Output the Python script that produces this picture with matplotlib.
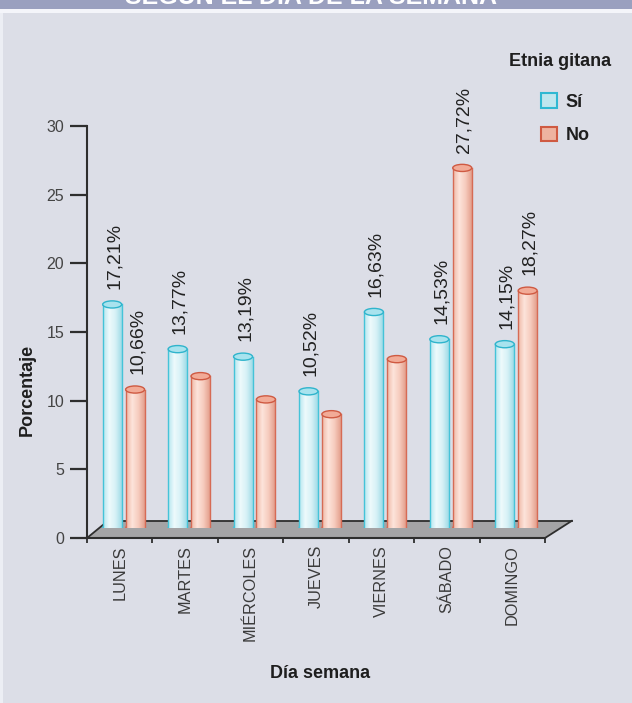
import matplotlib
matplotlib.use("Agg")
import matplotlib.pyplot as plt
import numpy as np
from matplotlib.patches import Rectangle, Ellipse, Polygon, Patch
from matplotlib.colors import LinearSegmentedColormap

plt.rcParams['font.family'] = ['Liberation Sans', 'DejaVu Sans']

# data
dias = ['LUNES', 'MARTES', 'MIÉRCOLES', 'JUEVES', 'VIERNES', 'SÁBADO', 'DOMINGO']
si = [17.21, 13.77, 13.19, 10.52, 16.63, 14.53, 14.15]
no = [10.66, 11.69, 9.90, 8.76, 13.00, 27.72, 18.27]
etiqueta_si = [True, True, True, True, True, True, True]
etiqueta_no = [True, False, False, False, False, True, True]
yticks = [0, 5, 10, 15, 20, 25, 30]

W, H = 632, 703
PT = 72 / 100  # pixels -> points
fig = plt.figure(figsize=(W / 100, H / 100), dpi=100)
fig.patch.set_facecolor('#dcdee7')

# banner on top + white line + light left strip
fig.patches.append(Rectangle((0, 1 - 9 / H), 1, 9 / H, transform=fig.transFigure,
                             facecolor='#9aa0bf', edgecolor='none', zorder=0))
fig.patches.append(Rectangle((0, 1 - 13 / H), 1, 4 / H, transform=fig.transFigure,
                             facecolor='#f4f5fa', edgecolor='none', zorder=0))
fig.patches.append(Rectangle((0, 0), 3 / W, 1 - 13 / H, transform=fig.transFigure,
                             facecolor='#eceef4', edgecolor='none', zorder=0))
fig.text(311 / W, 1 - 4 / H, 'SEGÚN EL DÍA DE LA SEMANA', color='white',
         fontsize=18, fontweight='bold', ha='center', va='baseline')

# front axes: ticks, floor
x0, x1 = 87, 545
y0, y30 = 538, 126
ax = fig.add_axes([x0 / W, (H - y0) / H, (x1 - x0) / W, (y0 - y30) / H])
ax.set_facecolor('none')
ax.set_xlim(0, 7)
ax.set_ylim(0, 30)
for s in ['top', 'right']:
    ax.spines[s].set_visible(False)
for s in ['left', 'bottom']:
    ax.spines[s].set_color('#2e2e2e')
    ax.spines[s].set_linewidth(1.5)
ax.set_yticks(yticks)
ax.tick_params(axis='y', length=17 * PT, width=1.6, color='#2e2e2e', pad=6 * PT,
               labelsize=11.5, labelcolor='#444444')
ax.set_xticks(np.arange(7) + 0.5)
ax.set_xticklabels(dias, rotation=90, fontsize=11.7, color='#3a3a3a')
ax.set_xticks(np.arange(8), minor=True)
ax.tick_params(axis='x', which='major', length=0, pad=7 * PT)
ax.tick_params(axis='x', which='minor', length=5 * PT, width=1.3, color='#2e2e2e')

floor = Polygon([(0, 0), (7, 0), (7.41, 1.25), (0.32, 1.25)], closed=True,
                facecolor='#a4a4a6', edgecolor='none', clip_on=False, zorder=1)
ax.add_patch(floor)
ax.plot([0.32, 7.41], [1.25, 1.25], color='#2e2e2e', lw=1.3, clip_on=False, zorder=2)
ax.plot([7, 7.41], [0, 1.25], color='#2e2e2e', lw=1.3, clip_on=False, zorder=2)
ax.plot([0, 0.32], [0, 1.25], color='#2e2e2e', lw=1.3, clip_on=False, zorder=2)

ax.text((27 - x0) / (x1 - x0), (y0 - 390) / (y0 - y30), 'Porcentaje', rotation=90,
        transform=ax.transAxes, ha='center', va='center', fontsize=13,
        fontweight='bold', color='#1e1e1e')
ax.text((320 - x0) / (x1 - x0), (y0 - 673) / (y0 - y30), 'Día semana',
        transform=ax.transAxes, ha='center', va='center', fontsize=13,
        fontweight='bold', color='#1e1e1e')

# back plane axes for the cylinders (3d perspective)
b0 = 528
escala = 12.99
bx = fig.add_axes([x0 / W, (H - b0) / H, (x1 - x0) / W, 30 * escala / H])
bx.set_facecolor('none')
bx.axis('off')

cmap_si = LinearSegmentedColormap.from_list('si', ['#b4e6ef', '#eefafc', '#d6f1f6', '#9fdbe7'])
cmap_no = LinearSegmentedColormap.from_list('no', ['#efb8a6', '#fde4db', '#f6cbbd', '#e39f8c'])
grad = np.linspace(0, 1, 64).reshape(1, -1)
ancho = 0.29
eh = 0.55


def cilindro(xc, h, cmap, borde, tapa, tapa_borde):
    l, r = xc - ancho / 2, xc + ancho / 2
    base = Ellipse((xc, 0), ancho, eh, facecolor=cmap(0.6), edgecolor=borde, lw=1, zorder=3)
    bx.add_patch(base)
    cuerpo = Rectangle((l, 0), ancho, h, facecolor='none', edgecolor='none', zorder=4)
    bx.add_patch(cuerpo)
    im = bx.imshow(grad, extent=[l, r, 0, h], aspect='auto', cmap=cmap, zorder=4,
                   interpolation='bilinear')
    im.set_clip_path(cuerpo)
    bx.plot([l, l], [0, h], color=borde, lw=1, zorder=5)
    bx.plot([r, r], [0, h], color=borde, lw=1, zorder=5)
    bx.add_patch(Ellipse((xc, h), ancho, eh, angle=0, facecolor=tapa,
                         edgecolor=tapa_borde, lw=1, zorder=6))


for i in range(len(dias)):
    xs = i + 0.385
    xn = i + 0.735
    cilindro(xs, si[i], cmap_si, '#45c3d8', '#a8e3ee', '#2fb4cc')
    cilindro(xn, no[i], cmap_no, '#d66b55', '#f2ab97', '#cf5a42')
    if etiqueta_si[i]:
        bx.annotate(f'{si[i]:.2f}%'.replace('.', ','), (xs + 0.03, si[i]),
                    xytext=(0, 11), textcoords='offset points', rotation=90,
                    ha='center', va='bottom', fontsize=14, color='#222222')
    if etiqueta_no[i]:
        bx.annotate(f'{no[i]:.2f}%'.replace('.', ','), (xn + 0.03, no[i]),
                    xytext=(0, 11), textcoords='offset points', rotation=90,
                    ha='center', va='bottom', fontsize=14, color='#222222')

bx.set_xlim(0, 7)
bx.set_ylim(0, 30)

# legend
fig.text(560 / W, 1 - 62 / H, 'Etnia gitana', ha='center', va='center',
         fontsize=13, fontweight='bold', color='#1e1e1e')
handles = [Patch(facecolor='#bfe6ee', edgecolor='#2fb8d2', lw=1.5, label='Sí'),
           Patch(facecolor='#eeb3a0', edgecolor='#cf5a42', lw=1.5, label='No')]
leg = fig.legend(handles=handles, loc='upper left',
                 bbox_to_anchor=(525 / W, 1 - 77 / H), frameon=False,
                 prop={'size': 13, 'weight': 'bold'},
                 handlelength=0.85, handleheight=0.85, handletextpad=0.5,
                 labelspacing=0.9)
for t in leg.get_texts():
    t.set_color('#1e1e1e')

fig.savefig('out.png', dpi=100, facecolor=fig.get_facecolor())
